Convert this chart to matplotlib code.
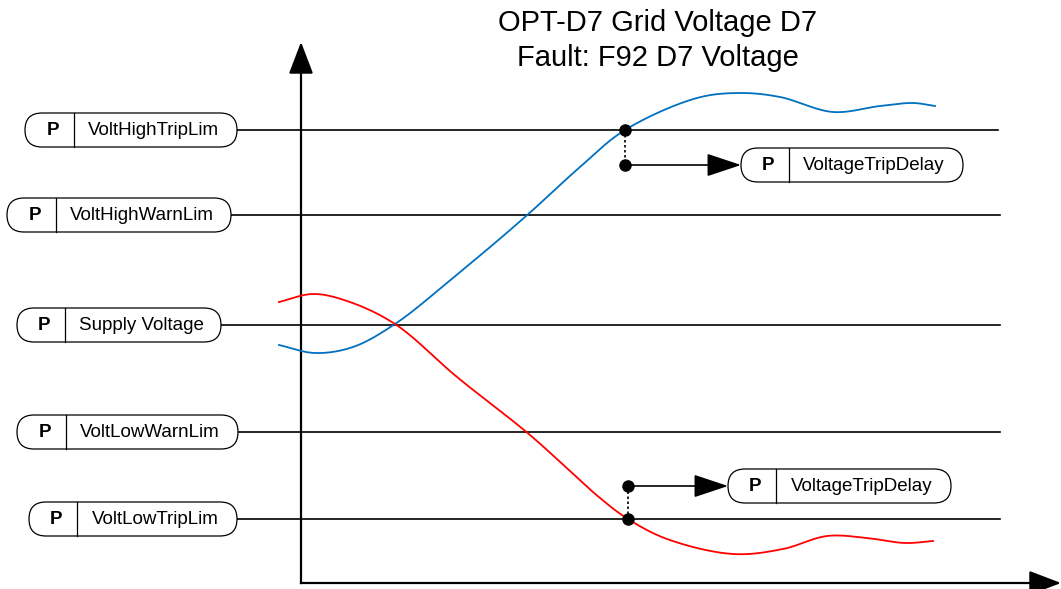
import numpy as np
import matplotlib
matplotlib.use("Agg")
import matplotlib.pyplot as plt
from matplotlib.patches import FancyBboxPatch

plt.rcParams['font.family'] = ['Liberation Sans', 'DejaVu Sans']

W, H = 1061, 589

# ---- data (diagram coordinates in pixels, y downward) ----
title_lines = ["OPT-D7 Grid Voltage D7", "Fault: F92 D7 Voltage"]
limit_names = ["VoltHighTripLim", "VoltHighWarnLim", "Supply Voltage", "VoltLowWarnLim", "VoltLowTripLim"]
limit_levels = [130, 215, 325, 432, 519]
box_left = [25, 7, 17, 17, 29]
box_right = [237, 231, 221, 238, 237]
box_divider = [74, 56, 65, 66, 77]
line_end = [998, 1000, 1000, 1000, 1000]

delay_name = "VoltageTripDelay"
delay_dot_x = [625, 628]
delay_dot_y_from = [130, 519]
delay_dot_y_to = [165, 486]
delay_box_left = [741, 728]
delay_box_right = [963, 951]
delay_box_divider = [789, 776]

blue_x = [279, 315, 353, 395, 447, 525, 580, 625, 697, 740, 780, 833, 880, 913, 935]
blue_y = [345, 353, 347, 324, 283, 217, 167, 130, 98, 93, 97, 112, 106, 103, 106]
red_x = [279, 313, 347, 395, 457, 530, 600, 628, 667, 733, 783, 827, 867, 905, 933]
red_y = [302, 294, 301, 324, 377, 435, 498, 519, 539, 554, 549, 536, 538, 543, 541]

axis_origin = (301, 583)
axis_top = 42
axis_right = 1061


def catmull(xs, ys, n=30, alpha=0.5):
    # centripetal Catmull-Rom spline through the given points
    p = np.column_stack([xs, ys]).astype(float)
    p = np.vstack([2 * p[0] - p[1], p, 2 * p[-1] - p[-2]])
    out = []
    for i in range(1, len(p) - 2):
        p0, p1, p2, p3 = p[i - 1], p[i], p[i + 1], p[i + 2]
        t0 = 0.0
        t1 = t0 + np.linalg.norm(p1 - p0) ** alpha
        t2 = t1 + np.linalg.norm(p2 - p1) ** alpha
        t3 = t2 + np.linalg.norm(p3 - p2) ** alpha
        t = np.linspace(t1, t2, n, endpoint=False)[:, None]
        a1 = (t1 - t) / (t1 - t0) * p0 + (t - t0) / (t1 - t0) * p1
        a2 = (t2 - t) / (t2 - t1) * p1 + (t - t1) / (t2 - t1) * p2
        a3 = (t3 - t) / (t3 - t2) * p2 + (t - t2) / (t3 - t2) * p3
        b1 = (t2 - t) / (t2 - t0) * a1 + (t - t0) / (t2 - t0) * a2
        b2 = (t3 - t) / (t3 - t1) * a2 + (t - t1) / (t3 - t1) * a3
        c = (t2 - t) / (t2 - t1) * b1 + (t - t1) / (t2 - t1) * b2
        out.append(c)
    out.append(p[-2][None, :])
    a = np.vstack(out)
    return a[:, 0], a[:, 1]


fig = plt.figure(figsize=(W / 100, H / 100), dpi=100)
ax = fig.add_axes([0, 0, 1, 1])
ax.set_xlim(0, W)
ax.set_ylim(H, 0)
ax.axis('off')


def pbox(left, right, div, yc, label, h=34):
    box = FancyBboxPatch((left, yc - h / 2), right - left, h,
                         boxstyle="round,pad=0,rounding_size=%g" % (h / 2),
                         fc='white', ec='black', lw=0.9, zorder=5)
    ax.add_patch(box)
    ax.plot([div, div], [yc - h / 2, yc + h / 2], color='black', lw=0.9, zorder=6)
    ax.text((left + div) / 2 + 3, yc + 0.5, "P", fontsize=13.5, fontweight='bold',
            ha='center', va='center', zorder=7)
    ax.text((div + right) / 2 - 2, yc + 0.5, label, fontsize=13.5,
            ha='center', va='center', zorder=7)


# limit lines and boxes
for name, lev, l, r, d, e in zip(limit_names, limit_levels, box_left, box_right, box_divider, line_end):
    ax.plot([r, e], [lev, lev], color='black', lw=1.2, zorder=2)
    pbox(l, r, d, lev, name)

# axes
ax.plot([axis_origin[0], axis_origin[0]], [axis_origin[1], axis_top + 15], color='black', lw=1.6, zorder=3)
ax.plot([axis_origin[0], axis_right - 15], [axis_origin[1], axis_origin[1]], color='black', lw=1.6, zorder=3)
axis_arrow = dict(arrowstyle='-|>,head_length=1.1,head_width=0.42', mutation_scale=18,
                  color='black', lw=1.6, shrinkA=0, shrinkB=0)
ax.annotate('', xy=(axis_origin[0], axis_top), xytext=(axis_origin[0], axis_top + 30),
            arrowprops=axis_arrow, zorder=4)
ax.annotate('', xy=(axis_right, axis_origin[1]), xytext=(axis_right - 30, axis_origin[1]),
            arrowprops=axis_arrow, zorder=4)

# curves
bx, by = catmull(blue_x, blue_y)
rx, ry = catmull(red_x, red_y)
ax.plot(bx, by, color='#0070c0', lw=1.3, zorder=4)
ax.plot(rx, ry, color='#ff0000', lw=1.3, zorder=4)

# trip delay markers
for dx, y0, y1, bl, br, bd in zip(delay_dot_x, delay_dot_y_from, delay_dot_y_to,
                                  delay_box_left, delay_box_right, delay_box_divider):
    ax.plot([dx, dx], [y0, y1], color='black', lw=1.2, ls=(0, (1.5, 1.5)), zorder=6)
    ax.plot([dx, dx], [y0, y1], 'o', color='black', ms=8, zorder=7)
    ax.annotate('', xy=(bl, y1), xytext=(dx, y1),
                arrowprops=dict(arrowstyle='-|>,head_length=1.2,head_width=0.4', mutation_scale=18,
                                color='black', lw=1.2, shrinkA=0, shrinkB=0), zorder=6)
    pbox(bl, br, bd, y1, delay_name)

# title
ax.text(658, 23, title_lines[0], fontsize=21, ha='center', va='center')
ax.text(658, 58, title_lines[1], fontsize=21, ha='center', va='center')

fig.savefig("out.png", dpi=100)
